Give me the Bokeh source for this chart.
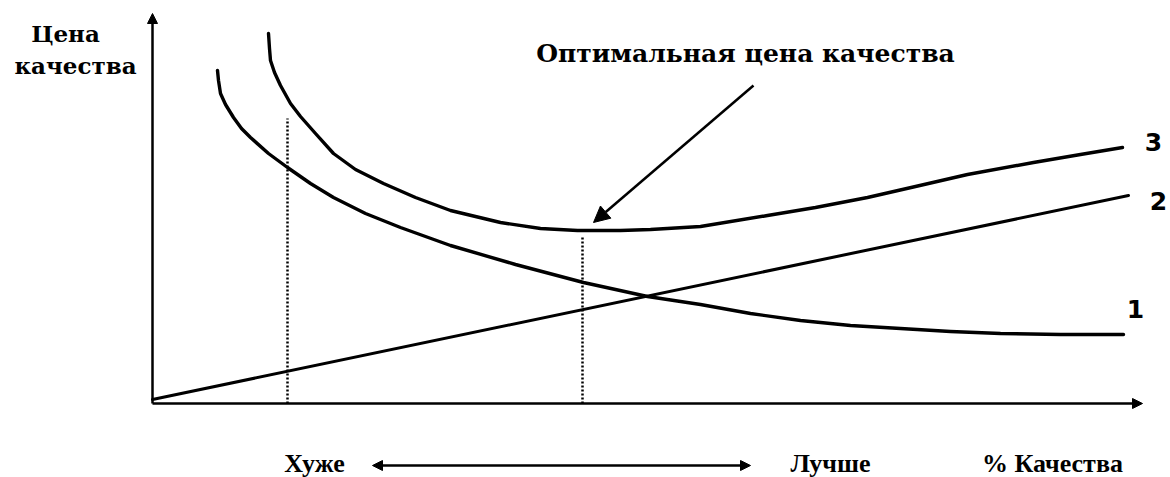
from bokeh.plotting import figure
from bokeh.models import Range1d, Arrow, NormalHead, Label
from bokeh.embed import file_html
from bokeh.resources import INLINE

# Curve 1: cost of quality falling with quality
c1_x = [65, 66, 68, 73, 81, 89, 98, 116, 135, 158, 181, 213, 248, 298, 363, 431, 495,
        548, 598, 648, 698, 748, 798, 848, 908, 971]
c1_y = [333, 323, 310, 299, 286, 275, 266, 250, 236, 220, 206, 190, 176, 158, 139, 121, 107,
        99, 90, 83, 78, 75, 72, 70, 69, 69]
# Curve 2: straight rising line
c2_x = [0, 976]
c2_y = [4, 208]
# Curve 3: total (sum) curve with the optimum
c3_x = [116, 117, 118, 122, 128, 138, 148, 163, 181, 203, 231, 263, 298, 348, 388, 425, 468,
        498, 548, 615, 663, 715, 763, 815, 881, 928, 970]
c3_y = [370, 355, 343, 331, 318, 300, 287, 270, 250, 234, 220, 206, 193, 181, 175, 173, 173,
        174, 177, 188, 196, 206, 217, 229, 241, 249, 256]
# Dotted guides
guide_x = [135, 430]
guide_top = [285, 168]

labels_curves = ["1", "2", "3"]

p = figure(width=1170, height=477, output_backend="svg", toolbar_location=None,
           x_range=Range1d(-152, 1018), y_range=Range1d(-74, 403),
           x_axis_location=None, y_axis_location=None, min_border=0)
p.grid.visible = False
p.outline_line_color = None
p.background_fill_color = "white"
p.border_fill_color = "white"

# axes
p.add_layout(Arrow(x_start=0, y_start=0, x_end=0, y_end=390, line_width=2.5, line_color="black",
                   end=NormalHead(size=10, fill_color="black", line_color="black")))
p.add_layout(Arrow(x_start=0, y_start=0, x_end=990, y_end=0, line_width=2.5, line_color="black",
                   end=NormalHead(size=10, fill_color="black", line_color="black")))

# guides
for gx, gt in zip(guide_x, guide_top):
    p.line([gx, gx], [0, gt], line_width=2.5, line_color="black", line_dash="2 2")

# curves
p.line(c1_x, c1_y, line_width=3.4, line_color="black", line_cap="round", line_join="round")
p.line(c2_x, c2_y, line_width=3, line_color="black", line_cap="round")
p.line(c3_x, c3_y, line_width=3.4, line_color="black", line_cap="round", line_join="round")

# pointer arrow
p.add_layout(Arrow(x_start=601, y_start=318, x_end=441, y_end=181, line_width=2.5, line_color="black",
                   end=NormalHead(size=16, fill_color="black", line_color="black")))

# bottom double arrow
p.add_layout(Arrow(x_start=220, y_start=-62, x_end=598, y_end=-62, line_width=2.5, line_color="black",
                   start=NormalHead(size=10, fill_color="black", line_color="black"),
                   end=NormalHead(size=10, fill_color="black", line_color="black")))

serif = "DejaVu Serif"
def lab(x, y, t, size, font=serif, style="bold", align="center"):
    p.add_layout(Label(x=x, y=y, text=t, text_font=font, text_font_size=size,
                       text_font_style=style, text_align=align, text_baseline="middle",
                       text_color="black"))

lab(-87, 370, "Цена", "23px")
lab(-77, 338, "качества", "23px")
lab(593, 350, "Оптимальная цена качества", "25px")
lab(162, -60, "Хуже", "26px", font="Liberation Serif")
lab(678, -60, "Лучше", "26px", font="Liberation Serif")
lab(900, -60, "% Качества", "26px", font="Liberation Serif")

for t, (x, y) in zip(labels_curves, [(983, 95), (1006, 203), (1001, 262)]):
    lab(x, y, t, "25px", font="DejaVu Sans")

open("out.html", "w").write(file_html(p, INLINE))
